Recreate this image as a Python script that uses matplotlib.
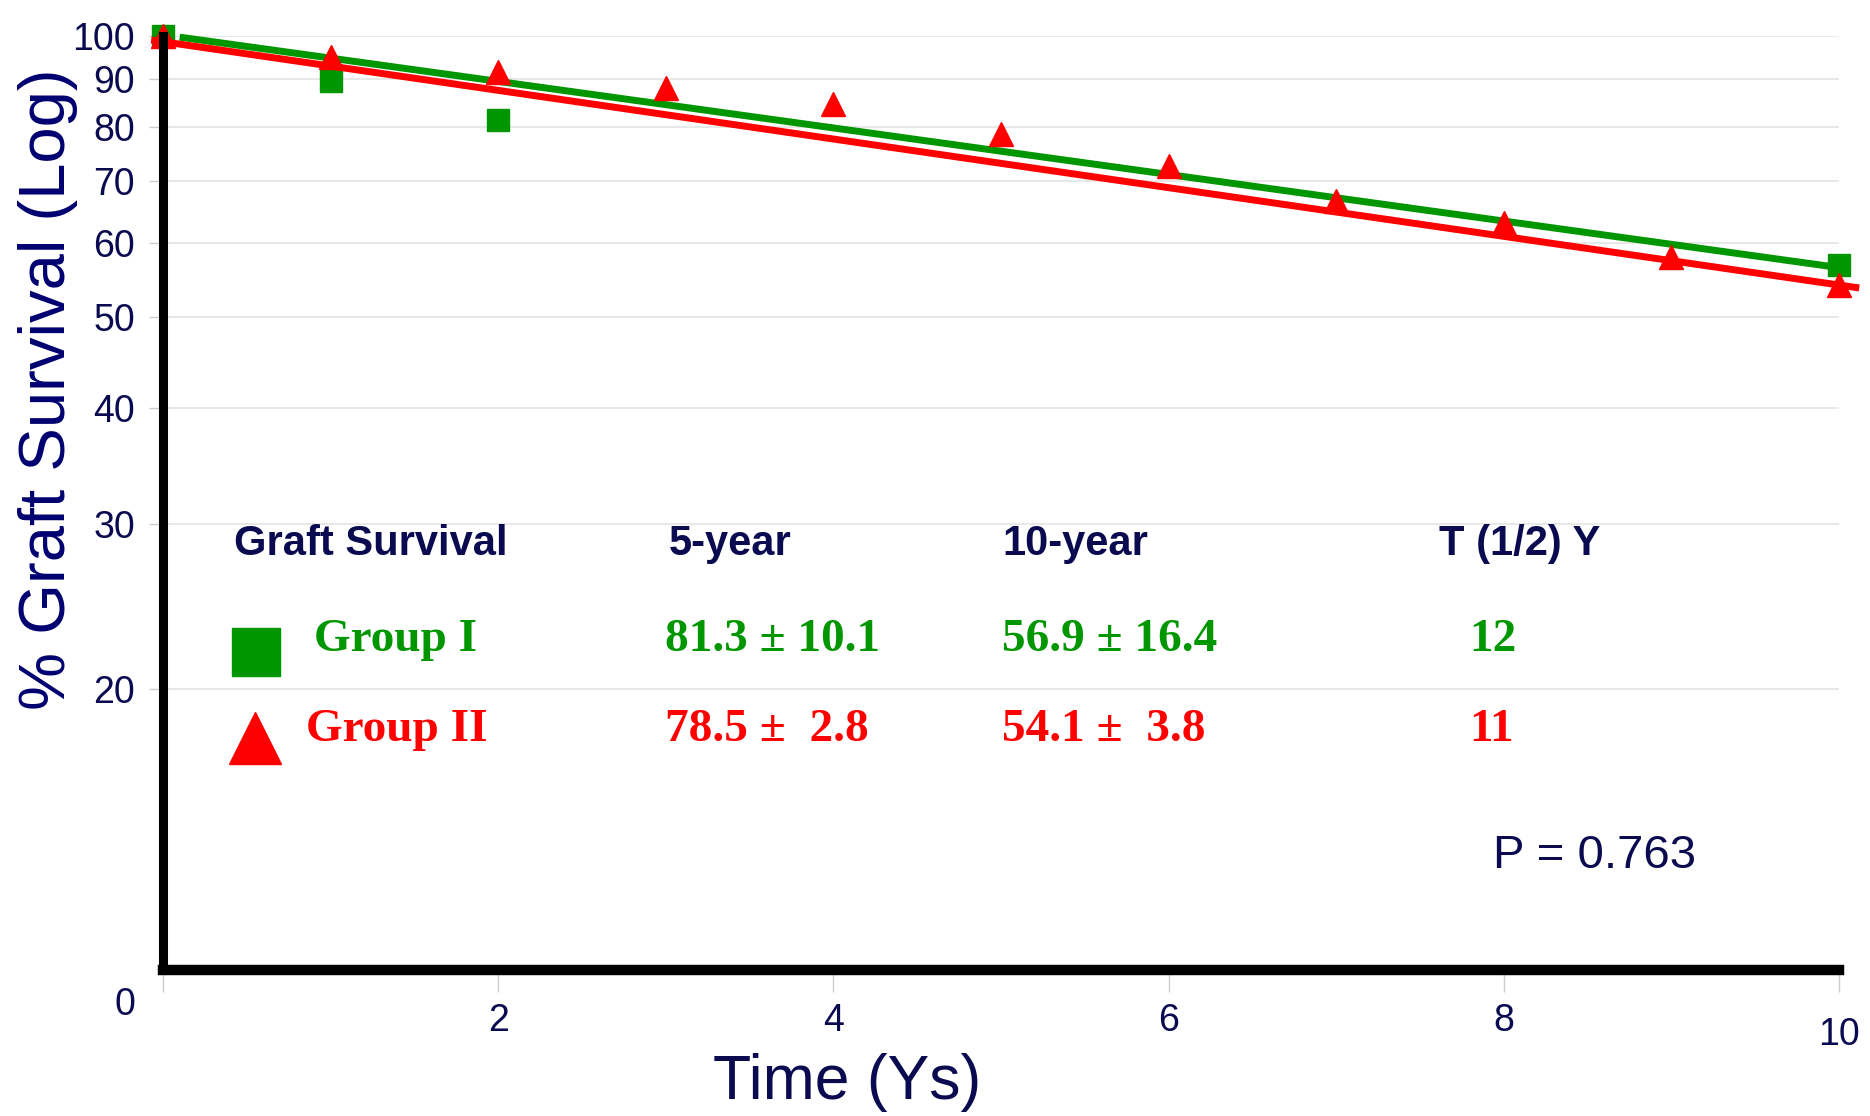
import numpy as np
import matplotlib.pyplot as plt
from matplotlib import font_manager
from matplotlib.ticker import NullLocator

# Data
years_g1 = [0, 1, 2, 10]
surv_g1 = [100, 89.5, 81.3, 56.9]

years_g2 = [0, 1, 2, 3, 4, 5, 6, 7, 8, 9, 10]
surv_g2 = [100, 95, 91.5, 88, 84.5, 78.5, 72.5, 66.5, 63, 58, 54.1]

# fitted regression lines (end points)
fit_x_g1 = [0.12, 10]
fit_y_g1 = [99.6, 56.5]
fit_x_g2 = [-0.05, 10.1]
fit_y_g2 = [98.9, 53.8]

y_ticks = [20, 30, 40, 50, 60, 70, 80, 90, 100]
x_ticks = [0, 2, 4, 6, 8, 10]

headers = ["Graft Survival", "5-year", "10-year", "T (1/2) Y"]
row_g1 = ["Group I", "81.3 \u00b1 10.1", "56.9 \u00b1 16.4", "12"]
row_g2 = ["Group II", "78.5 \u00b1  2.8", "54.1 \u00b1  3.8", "11"]
p_text = "P = 0.763"

GREEN = '#009600'
RED = '#ff0000'
NAVY = '#0a0a50'
LABEL_NAVY = '#000070'

names = {f.name for f in font_manager.fontManager.ttflist}
head_font = 'Liberation Sans Narrow' if 'Liberation Sans Narrow' in names else 'Liberation Sans'
plt.rcParams['font.family'] = ['Liberation Sans', 'DejaVu Sans']

W, H = 1870, 1116
fig = plt.figure(figsize=(W / 100, H / 100), dpi=100)
ax = fig.add_axes([163 / W, 1 - 970 / H, (1839 - 163) / W, (970 - 36) / H])

ax.set_yscale('log')
ax.set_ylim(10, 100)
ax.set_xlim(0, 10)

ax.set_yticks(y_ticks)
ax.set_yticklabels([str(v) for v in y_ticks])
ax.yaxis.set_minor_locator(NullLocator())
ax.set_xticks(x_ticks)
ax.set_xticklabels(['', '2', '4', '6', '8', ''])

ax.grid(axis='y', color='#e4e4e4', linewidth=1.2)
ax.set_axisbelow(True)
ax.tick_params(axis='y', length=10, width=1, color='#cccccc', labelsize=27,
               labelcolor=NAVY, pad=10)
ax.tick_params(axis='x', length=16, width=1, color='#cccccc', labelsize=27,
               labelcolor=NAVY, pad=8)

for side in ['top', 'right']:
    ax.spines[side].set_visible(False)
ax.spines['left'].set_linewidth(6.5)
ax.spines['bottom'].set_linewidth(7.5)
ax.spines['left'].set_zorder(5)
ax.spines['bottom'].set_zorder(5)

# odd placed end labels of x axis
ax.text(-0.23, -0.038, '0', transform=ax.get_xaxis_transform(), ha='center', va='center',
        fontsize=27, color=NAVY, clip_on=False)
ax.text(10.0, -0.07, '10', transform=ax.get_xaxis_transform(), ha='center', va='center',
        fontsize=27, color=NAVY, clip_on=False)

# fit lines
ax.plot(fit_x_g1, fit_y_g1, color=GREEN, linewidth=5, clip_on=False, zorder=3)
ax.plot(fit_x_g2, fit_y_g2, color=RED, linewidth=5, clip_on=False, zorder=4)

# data points
ax.plot(years_g1, surv_g1, linestyle='none', marker='s', markersize=16,
        color=GREEN, clip_on=False, zorder=3)
ax.plot(years_g2, surv_g2, linestyle='none', marker='^', markersize=17,
        color=RED, clip_on=False, zorder=4)

# axis labels
fig.text(48 / W, 1 - 389 / H, '% Graft Survival (Log)', rotation=90, ha='center',
         va='center', fontsize=47, color=LABEL_NAVY)
fig.text(847 / W, 1 - 1082 / H, 'Time (Ys)', ha='center', va='center',
         fontsize=45, color=NAVY)

# summary table
col_x = [234, 669, 1002, 1439]
for x, h in zip(col_x, headers):
    fig.text(x / W, 1 - 544 / H, h, ha='left', va='center', fontsize=30,
             fontweight='bold', color=NAVY, family=head_font)

row_x = [[314, 665, 1002, 1469], [306, 665, 1002, 1469]]
row_y = [640, 730]
for row, xs, y, col in zip([row_g1, row_g2], row_x, row_y, [GREEN, RED]):
    for x, t in zip(xs, row):
        fig.text(x / W, 1 - y / H, t, ha='left', va='center', fontsize=34,
                 fontweight='bold', color=col, family='Liberation Serif')

fig.lines.append(plt.Line2D([256 / W], [1 - 652 / H], marker='s', markersize=35,
                            color=GREEN, linestyle='none', transform=fig.transFigure))
fig.lines.append(plt.Line2D([255 / W], [1 - 738 / H], marker='^', markersize=38,
                            color=RED, linestyle='none', transform=fig.transFigure))

fig.text(1493 / W, 1 - 856 / H, p_text, ha='left', va='center', fontsize=34,
         color=NAVY)

fig.savefig('out.png', dpi=100)
